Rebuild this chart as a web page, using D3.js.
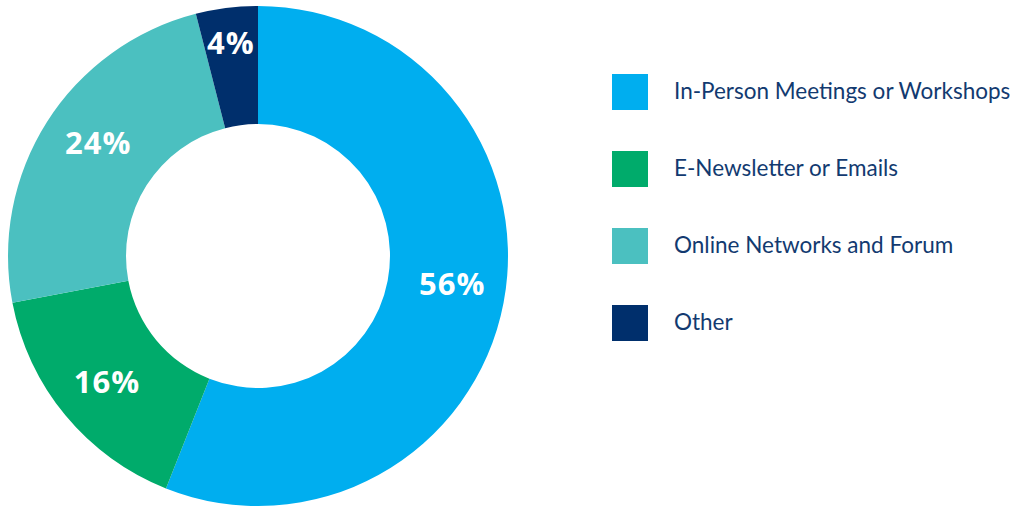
<!DOCTYPE html>
<html>
<head>
<meta charset="utf-8">
<script src="https://cdn.jsdelivr.net/npm/d3@7"></script>
<style>
  html, body { margin: 0; padding: 0; background: #fff; }
  svg { display: block; }
</style>
</head>
<body>
<svg id="chart" width="1012" height="506"></svg>
<script>
// Channels used, in clockwise order from 12 o'clock
const categories = [
  "In-Person Meetings or Workshops",
  "E-Newsletter or Emails",
  "Online Networks and Forum",
  "Other"
];
const shares = [56, 16, 24, 4];
const sliceLabels = ["56%", "16%", "24%", "4%"];
const legendOrder = [
  "In-Person Meetings or Workshops",
  "E-Newsletter or Emails",
  "Online Networks and Forum",
  "Other"
];
const palette = ["#00aeef", "#00ab6b", "#4bc0c0", "#002f6c"];

const svg = d3.select("#chart");
const cx = 258, cy = 256;
const outerR = 250, innerR = 132;

const color = d3.scaleOrdinal().domain(categories).range(palette);

const data = categories.map((c, i) => ({ name: c, value: shares[i], label: sliceLabels[i] }));

const pie = d3.pie().value(d => d.value).sort(null);
const arc = d3.arc().innerRadius(innerR).outerRadius(outerR);

const g = svg.append("g").attr("transform", `translate(${cx},${cy})`);
const arcs = pie(data);

g.selectAll("path.slice")
  .data(arcs)
  .join("path")
  .attr("class", "slice")
  .attr("d", arc)
  .attr("fill", d => color(d.data.name));

// Percent labels sit in the ring; thin slices push the label outward,
// upper-side labels lean slightly toward 12 o'clock
g.selectAll("text.pct")
  .data(arcs)
  .join("text")
  .attr("class", "pct")
  .attr("transform", d => {
    const thin = (d.endAngle - d.startAngle) < 0.4;
    const r = thin ? 216 : 196;
    let a = (d.startAngle + d.endAngle) / 2;
    if (!thin && Math.cos(a) > -0.3) {
      const nudge = 3 * Math.PI / 180;
      a += Math.sin(a) > 0 ? -nudge : nudge;
    }
    const x = Math.sin(a) * r, y = -Math.cos(a) * r;
    return `translate(${x},${y})`;
  })
  .attr("text-anchor", "middle")
  .attr("dominant-baseline", "central")
  .attr("fill", "#ffffff")
  .attr("font-family", "'Open Sans', Roboto, sans-serif")
  .attr("font-weight", 700)
  .attr("font-size", 31)
  .attr("letter-spacing", 1)
  .text(d => d.data.label);

// Legend
const legend = svg.append("g").attr("transform", "translate(612,74)");
const step = 77;
const items = legend.selectAll("g.item")
  .data(legendOrder)
  .join("g")
  .attr("class", "item")
  .attr("transform", (d, i) => `translate(0,${i * step})`);

items.append("rect")
  .attr("width", 36)
  .attr("height", 36)
  .attr("fill", d => color(d));

items.append("text")
  .attr("x", 62)
  .attr("y", 16)
  .attr("dominant-baseline", "central")
  .attr("fill", "#123a70")
  .attr("font-family", "Lato, 'Open Sans', sans-serif")
  .attr("font-size", 22.5)
  .text(d => d);
</script>
</body>
</html>
